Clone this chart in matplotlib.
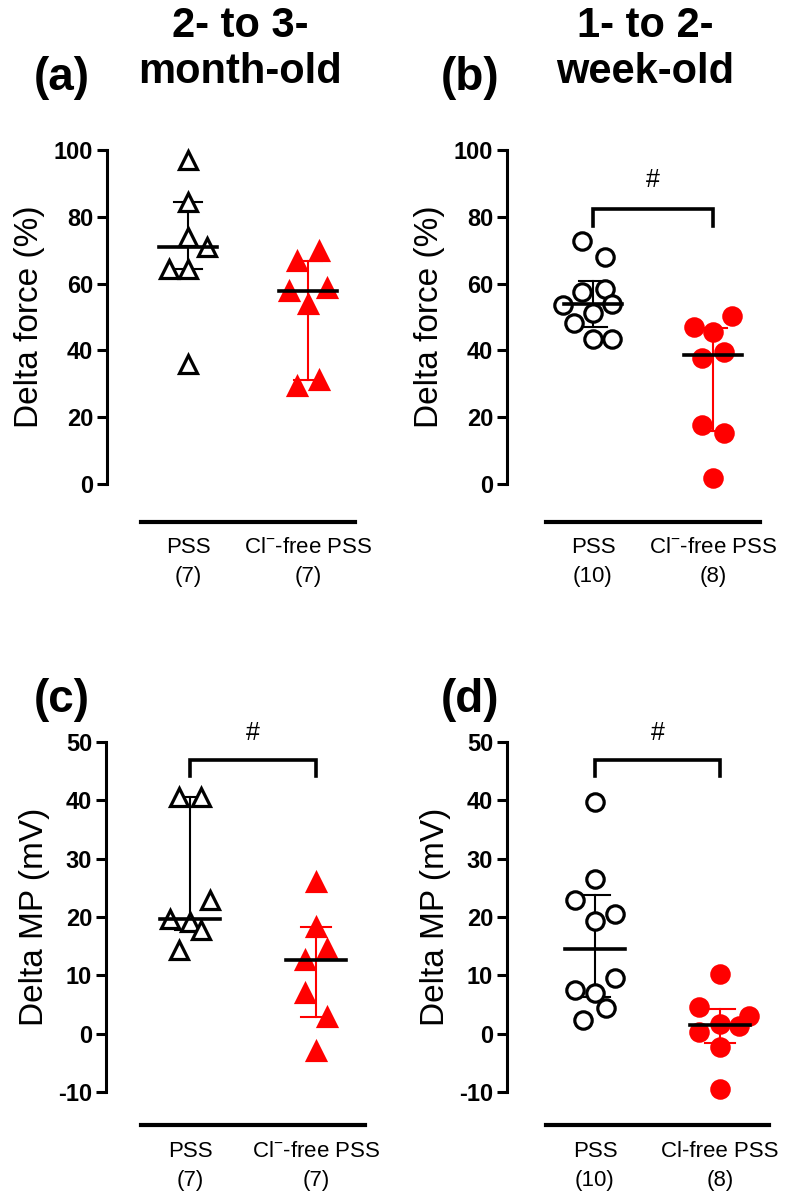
import matplotlib.pyplot as plt
import numpy as np

plt.rcParams['font.family'] = ['Liberation Sans', 'DejaVu Sans']
plt.rcParams['mathtext.fontset'] = 'custom'
plt.rcParams['mathtext.rm'] = 'Liberation Sans'
plt.rcParams['axes.unicode_minus'] = False

# ---- data ----
# (a) 2- to 3-month-old, delta force (%)
a_pss = [97.0, 84.4, 73.9, 70.9, 64.5, 64.5, 35.8]
a_clfree = [69.9, 66.9, 58.8, 57.8, 53.9, 31.0, 29.2]
# (b) 1- to 2-week-old, delta force (%)
b_pss = [72.8, 68.1, 57.6, 58.3, 53.6, 53.9, 51.1, 48.1, 43.3, 43.3]
b_clfree = [50.4, 47.1, 45.6, 37.6, 39.6, 17.7, 15.2, 1.7]
# (c) 2- to 3-month-old, delta MP (mV)
c_pss = [40.6, 40.6, 22.9, 19.7, 19.1, 17.8, 14.4]
c_clfree = [26.0, 18.3, 14.6, 12.6, 6.9, 2.8, -2.9]
# (d) 1- to 2-week-old, delta MP (mV)
d_pss = [39.8, 26.6, 22.9, 20.6, 19.3, 9.6, 7.5, 6.9, 4.4, 2.3]
d_clfree = [10.3, 4.6, 3.1, 1.6, 1.4, 0.3, -2.2, -9.4]

labels_ac = ["PSS\n(7)", "Cl$^{-}$-free PSS\n(7)"]
labels_b = ["PSS\n(10)", "Cl$^{-}$-free PSS\n(8)"]
labels_d = ["PSS\n(10)", "Cl-free PSS\n(8)"]

# horizontal scatter of the points (in group units), same order as data
a_pss_dx = [0, 0, 0, 0.16, -0.16, 0, 0]
a_clfree_dx = [0.09, -0.09, 0.16, -0.16, 0, 0.09, -0.09]
b_pss_dx = [-0.09, 0.1, -0.09, 0.1, -0.25, 0.16, 0, -0.16, 0, 0.16]
b_clfree_dx = [0.16, -0.16, 0, -0.09, 0.09, -0.09, 0.09, 0]
c_pss_dx = [-0.09, 0.09, 0.16, -0.16, 0, 0.09, -0.085]
c_clfree_dx = [0, 0, 0.09, -0.09, -0.09, 0.09, 0]
d_pss_dx = [0, 0, -0.16, 0.16, 0, 0.16, -0.16, 0, 0.085, -0.095]
d_clfree_dx = [0, -0.165, 0.235, 0, 0.155, -0.165, 0, 0]

W, H = 786, 1200
fig = plt.figure(figsize=(W / 100, H / 100), dpi=100)


def make_axes(spine_px, g0_px, step_px, top_px, bot_px, ylim, yticks, ylabel):
    width_px = 270
    ax = fig.add_axes([spine_px / W, 1 - bot_px / H, width_px / W, (bot_px - top_px) / H])
    x0 = -(g0_px - spine_px) / step_px
    ax.set_xlim(x0, x0 + width_px / step_px)
    ax.set_ylim(*ylim)
    ax.set_yticks(yticks)
    for s in ['top', 'right']:
        ax.spines[s].set_visible(False)
    ax.spines['left'].set_linewidth(2.2)
    ax.spines['bottom'].set_linewidth(3)
    ax.spines['bottom'].set_bounds(-0.39, 1.39)
    ax.tick_params(axis='y', width=2.2, length=7, labelsize=17, pad=3)
    ax.tick_params(axis='x', length=0, labelsize=16, pad=11)
    for t in ax.get_yticklabels():
        t.set_fontweight('bold')
    ax.set_ylabel(ylabel, fontsize=24, labelpad=6)
    return ax


def draw_group(ax, x, vals, dx, marker, face, edge, bar_color):
    vals = np.array(vals)
    med = np.median(vals)
    q1, q3 = np.percentile(vals, [25, 75], method='weibull')
    ax.plot([x, x], [q1, q3], color=bar_color, lw=1.5, zorder=2)
    for q in (q1, q3):
        ax.plot([x - 0.12, x + 0.12], [q, q], color=bar_color, lw=1.5, zorder=2)
    ax.plot(x + np.array(dx), vals, linestyle='none', marker=marker,
            markersize=13.5 if marker == '^' else 12.5,
            markerfacecolor=face, markeredgecolor=edge, markeredgewidth=2.3,
            zorder=3, clip_on=False)
    ax.plot([x - 0.24, x + 0.24], [med, med], color='black', lw=2.6, zorder=4)


def bracket(ax, y_top, y_leg, y_hash):
    ax.plot([0, 0, 1, 1], [y_leg, y_top, y_top, y_leg], color='black', lw=2.6,
            solid_joinstyle='miter', clip_on=False)
    ax.text(0.5, y_hash, '#', ha='center', va='center', fontsize=18)


panels = [
    # spine, g0, step, top, bottom, ylim, ticks, ylabel, data, outward, labels
    (107, 188, 120, 150, 484, (0, 100), range(0, 101, 20), 'Delta force (%)',
     (a_pss, a_pss_dx, a_clfree, a_clfree_dx, '^'), 27, labels_ac),
    (507, 593, 120, 150, 484, (0, 100), range(0, 101, 20), 'Delta force (%)',
     (b_pss, b_pss_dx, b_clfree, b_clfree_dx, 'o'), 27, labels_b),
    (106, 190, 126, 742, 1092, (-10, 50), range(-10, 51, 10), 'Delta MP (mV)',
     (c_pss, c_pss_dx, c_clfree, c_clfree_dx, '^'), 24, labels_ac),
    (507, 595, 125, 742, 1092, (-10, 50), range(-10, 51, 10), 'Delta MP (mV)',
     (d_pss, d_pss_dx, d_clfree, d_clfree_dx, 'o'), 24, labels_d),
]

axes = []
for sp, g0, st, tp, bt, yl, yt, ylab, dat, outw, labs in panels:
    ax = make_axes(sp, g0, st, tp, bt, yl, yt, ylab)
    ax.spines['bottom'].set_position(('outward', outw))
    ax.set_xticks([0, 1])
    ax.set_xticklabels(labs, linespacing=1.5)
    pss, pdx, clf, cdx, mk = dat
    draw_group(ax, 0, pss, pdx, mk, 'white', 'black', 'black')
    draw_group(ax, 1, clf, cdx, mk, 'red', 'red', 'red')
    axes.append(ax)

bracket(axes[1], 82.3, 77.2, 91)
bracket(axes[2], 47.0, 44.1, 51.5)
bracket(axes[3], 47.0, 44.1, 51.5)

for x, l1, l2 in [(240, '2- to 3-', 'month-old'), (645, '1- to 2-', 'week-old')]:
    fig.text(x / W, 1 - 26 / H, l1, ha='center', va='center', fontsize=30,
             fontweight='bold')
    fig.text(x / W, 1 - 72 / H, l2, ha='center', va='center', fontsize=30,
             fontweight='bold')
for x, y, lab in [(62, 78, '(a)'), (470, 78, '(b)'), (62, 700, '(c)'), (470, 700, '(d)')]:
    fig.text(x / W, 1 - y / H, lab, ha='center', va='center', fontsize=33,
             fontweight='bold')

fig.savefig('out.png', dpi=100)
